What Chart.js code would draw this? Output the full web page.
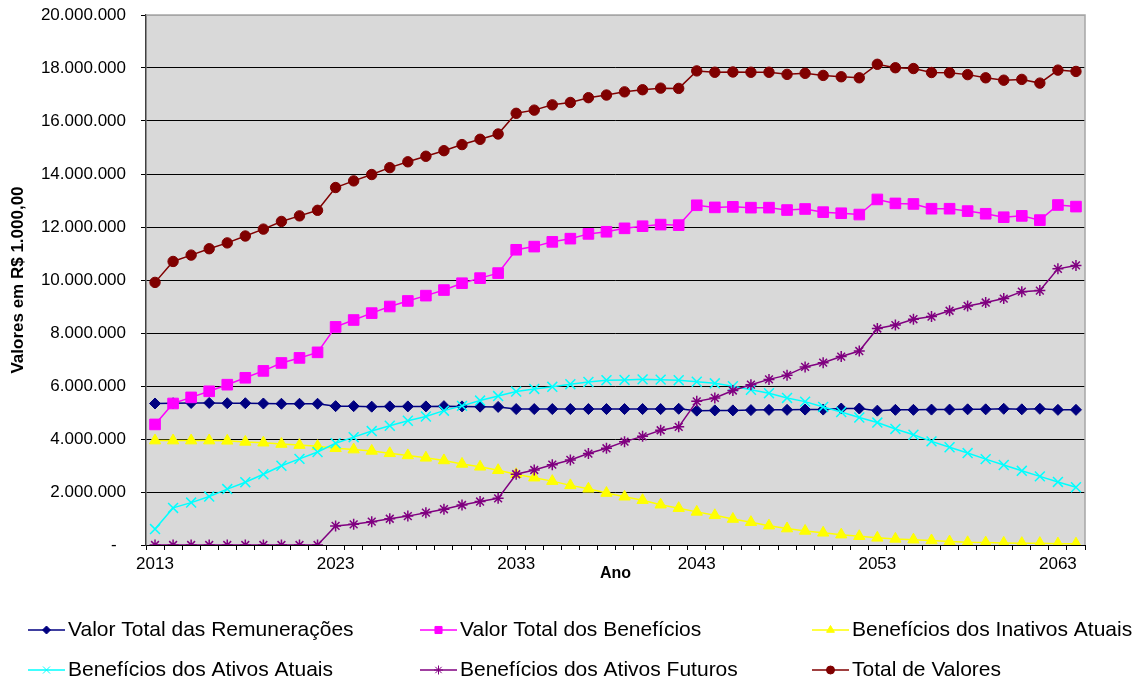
<!DOCTYPE html>
<html>
<head>
<meta charset="utf-8">
<script src="https://cdn.jsdelivr.net/npm/chart.js@4/dist/chart.umd.min.js"></script>
<style>
  html, body { margin: 0; padding: 0; background: #ffffff; }
  #wrap { position: relative; width: 1136px; height: 685px; }
</style>
</head>
<body>
<div id="wrap"><canvas id="c" width="1136" height="685"></canvas></div>
<script>
// ---------- DATA (values in R$ 1.000,00) ----------
const years = [];
for (let y = 2013; y <= 2064; y++) years.push(String(y));

const seriesNames = [
  'Valor Total das Remunerações',
  'Valor Total dos Benefícios',
  'Benefícios dos Inativos Atuais',
  'Benefícios dos Ativos Atuais',
  'Benefícios dos Ativos Futuros',
  'Total de Valores'
];

const remuneracoes = [
  5340000, 5350000, 5360000, 5360000, 5350000, 5350000, 5340000, 5330000, 5330000, 5330000, 5240000, 5240000, 5220000,
  5230000, 5230000, 5230000, 5240000, 5230000, 5220000, 5210000, 5130000, 5130000, 5130000, 5130000, 5130000, 5130000,
  5130000, 5130000, 5130000, 5140000, 5070000, 5080000, 5080000, 5090000, 5100000, 5100000, 5110000, 5110000, 5150000,
  5150000, 5070000, 5100000, 5100000, 5110000, 5110000, 5120000, 5120000, 5140000, 5120000, 5140000, 5100000, 5100000
];
const beneficios = [
  4550000, 5340000, 5570000, 5800000, 6050000, 6310000, 6570000, 6870000, 7060000, 7270000, 8230000, 8490000, 8750000,
  9000000, 9210000, 9410000, 9620000, 9880000, 10070000, 10260000, 11140000, 11260000, 11440000, 11560000, 11740000, 11820000,
  11950000, 12030000, 12090000, 12070000, 12820000, 12740000, 12760000, 12730000, 12730000, 12640000, 12680000, 12560000, 12520000,
  12470000, 13040000, 12890000, 12870000, 12690000, 12690000, 12600000, 12500000, 12370000, 12420000, 12260000, 12830000, 12770000
];
const inativosAtuais = [
  3940000, 3940000, 3940000, 3940000, 3930000, 3890000, 3860000, 3810000, 3770000, 3730000, 3650000, 3600000, 3550000,
  3460000, 3380000, 3290000, 3190000, 3060000, 2950000, 2820000, 2670000, 2540000, 2410000, 2250000, 2120000, 1960000,
  1820000, 1690000, 1520000, 1390000, 1250000, 1120000, 980000, 860000, 730000, 620000, 530000, 460000, 390000,
  330000, 270000, 230000, 200000, 170000, 130000, 100000, 90000, 80000, 70000, 70000, 50000, 50000
];
const ativosAtuais = [
  600000, 1400000, 1600000, 1830000, 2110000, 2370000, 2670000, 2990000, 3250000, 3510000, 3840000, 4070000, 4300000,
  4500000, 4690000, 4850000, 5070000, 5250000, 5450000, 5620000, 5790000, 5890000, 5970000, 6070000, 6150000, 6220000,
  6230000, 6250000, 6240000, 6220000, 6160000, 6100000, 5990000, 5860000, 5730000, 5550000, 5410000, 5210000, 5020000,
  4810000, 4620000, 4380000, 4160000, 3910000, 3690000, 3470000, 3240000, 3020000, 2800000, 2590000, 2380000, 2180000
];
const ativosFuturos = [
  0, 0, 0, 0, 0, 0, 0, 0, 0, 0, 720000, 780000, 880000,
  990000, 1090000, 1220000, 1350000, 1510000, 1640000, 1760000, 2670000, 2830000, 3030000, 3210000, 3450000, 3650000,
  3900000, 4100000, 4330000, 4460000, 5420000, 5550000, 5830000, 6050000, 6250000, 6410000, 6720000, 6880000, 7110000,
  7320000, 8170000, 8300000, 8520000, 8620000, 8840000, 9020000, 9150000, 9300000, 9560000, 9600000, 10420000, 10550000
];
const totalValores = [
  9910000, 10700000, 10940000, 11180000, 11400000, 11660000, 11920000, 12210000, 12420000, 12630000, 13490000, 13740000, 13980000,
  14240000, 14460000, 14670000, 14880000, 15110000, 15310000, 15510000, 16290000, 16410000, 16610000, 16700000, 16880000, 16980000,
  17100000, 17180000, 17240000, 17230000, 17890000, 17840000, 17850000, 17840000, 17840000, 17760000, 17800000, 17720000, 17670000,
  17630000, 18140000, 18010000, 17980000, 17830000, 17820000, 17750000, 17630000, 17540000, 17570000, 17430000, 17920000, 17870000
];

const yMin = 0, yMax = 20000000, yStep = 2000000;
const xAxisTitle = 'Ano';
const yAxisTitle = 'Valores em R$ 1.000,00';

// ---------- STYLE ----------
const FONT = "'Liberation Sans', Arial, sans-serif";
const styles = [
  { color: '#000080', point: 'rectRot',  radius: 5.5, pw: 1,   lr: 4 },
  { color: '#FF00FF', point: 'rect',     radius: 7.5, pw: 1,   lr: 5 },
  { color: '#FFFF00', point: 'triangle', radius: 6.5, pw: 1,   lr: 4.5 },
  { color: '#00FFFF', point: 'crossRot', radius: 7,   pw: 1.5, lr: 5 },
  { color: '#800080', point: 'star',     radius: 5.5, pw: 1.5, lr: 4.5 },
  { color: '#800000', point: 'circle',   radius: 5.2, pw: 1,   lr: 4 }
];
const seriesData = [remuneracoes, beneficios, inativosAtuais, ativosAtuais, ativosFuturos, totalValores];

const datasets = seriesData.map((d, i) => ({
  label: seriesNames[i],
  data: d,
  borderColor: styles[i].color,
  backgroundColor: styles[i].color,
  pointBackgroundColor: styles[i].color,
  pointBorderColor: styles[i].color,
  pointStyle: styles[i].point,
  pointRadius: styles[i].radius,
  pointHoverRadius: styles[i].radius,
  pointBorderWidth: styles[i].pw,
  borderWidth: 1.5,
  tension: 0,
  fill: false,
  order: 5 - i
}));

// legend layout
const legendItems = [
  { i: 0, x: 28,  y: 630, w: 288 },
  { i: 1, x: 420, y: 630, w: 244 },
  { i: 2, x: 812, y: 630, w: 282 },
  { i: 3, x: 28,  y: 670, w: 266 },
  { i: 4, x: 420, y: 670, w: 280 },
  { i: 5, x: 812, y: 670, w: 150 }
];

function fmt(v) {
  if (v === 0) return '-  ';
  return String(v).replace(/\B(?=(\d{3})+(?!\d))/g, '.');
}

function drawMarker(ctx, style, radius, x, y) {
  if (Chart.helpers && Chart.helpers.drawPoint) {
    Chart.helpers.drawPoint(ctx, { pointStyle: style, radius: radius, rotation: 0, borderWidth: 1 }, x, y);
  } else {
    ctx.beginPath(); ctx.arc(x, y, radius, 0, Math.PI * 2); ctx.fill(); ctx.stroke();
  }
}

const plotBg = {
  id: 'plotBg',
  beforeDraw(chart) {
    const { ctx, chartArea: a } = chart;
    ctx.save();
    ctx.fillStyle = '#D9D9D9';
    ctx.fillRect(a.left, a.top, a.right - a.left, a.bottom - a.top);
    ctx.restore();
  },
  beforeDatasetsDraw(chart) {
    const { ctx, chartArea: a } = chart;
    ctx.save();
    ctx.strokeStyle = '#A6A6A6';
    ctx.lineWidth = 1.5;
    ctx.beginPath();
    ctx.moveTo(a.left, a.top);
    ctx.lineTo(a.right, a.top);
    ctx.lineTo(a.right, a.bottom);
    ctx.stroke();
    ctx.restore();
  },
  afterDraw(chart) {
    const ctx = chart.ctx;
    ctx.save();
    legendItems.forEach(it => {
      const st = styles[it.i];
      ctx.strokeStyle = st.color;
      ctx.fillStyle = st.color;
      ctx.lineWidth = 1.5;
      ctx.beginPath();
      ctx.moveTo(it.x, it.y);
      ctx.lineTo(it.x + 37, it.y);
      ctx.stroke();
      ctx.lineWidth = 1;
      drawMarker(ctx, st.point, st.lr, it.x + 18.5, it.y);
      ctx.fillStyle = '#000';
      ctx.font = '21px ' + FONT;
      ctx.textBaseline = 'middle';
      ctx.textAlign = 'left';
      const label = seriesNames[it.i];
      const natural = ctx.measureText(label).width;
      ctx.fillText(label, it.x + 40, it.y, Math.min(natural, it.w));
    });
    ctx.restore();
  }
};

new Chart(document.getElementById('c'), {
  type: 'line',
  data: { labels: years, datasets: datasets },
  plugins: [plotBg],
  options: {
    responsive: false,
    animation: false,
    layout: { padding: { left: 0, top: 15, right: 51, bottom: 100 } },
    plugins: {
      legend: { display: false },
      tooltip: { enabled: false },
      title: { display: false }
    },
    scales: {
      x: {
        offset: true,
        afterFit(scale) { scale.height = 40; scale.paddingLeft = 0; scale.paddingRight = 0; },
        grid: {
          display: true, offset: true, drawOnChartArea: false, drawTicks: true,
          tickLength: 5, color: '#000', tickColor: '#000', lineWidth: 1
        },
        border: { display: true, color: '#000', width: 1 },
        ticks: {
          autoSkip: false, maxRotation: 0, minRotation: 0, padding: 4,
          color: '#000', font: { family: FONT, size: 17 },
          callback(val, idx) { return idx % 10 === 0 ? this.getLabelForValue(val) : ''; }
        },
        title: {
          display: true, text: xAxisTitle, color: '#000',
          font: { family: FONT, size: 16, weight: 'bold' },
          padding: { top: 0, bottom: 2 }
        }
      },
      y: {
        min: yMin, max: yMax,
        afterFit(scale) { scale.width = 146; scale.paddingTop = 0; scale.paddingBottom = 0; },
        grid: {
          color: (c) => (c.tick && c.tick.value === yMax) ? '#A6A6A6' : '#000',
          tickColor: '#000', lineWidth: 1, tickLength: 5, drawTicks: true
        },
        border: { display: true, color: '#404040', width: 1.5 },
        ticks: {
          stepSize: yStep, padding: 15, color: '#000',
          font: { family: FONT, size: 17 },
          callback: (v) => fmt(v)
        },
        title: {
          display: true, text: yAxisTitle, color: '#000',
          font: { family: FONT, size: 17, weight: 'bold' },
          padding: { top: 8, bottom: 0 }
        }
      }
    }
  }
});
</script>
</body>
</html>
